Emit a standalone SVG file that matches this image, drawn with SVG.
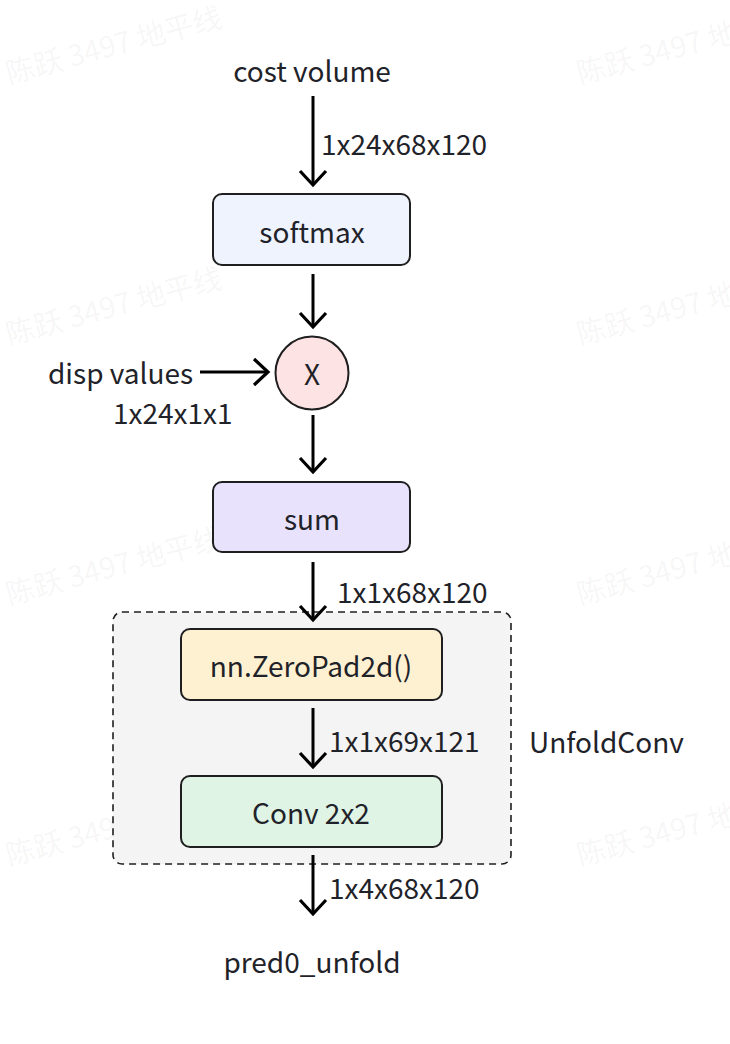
<svg xmlns="http://www.w3.org/2000/svg" width="730" height="1044" viewBox="0 0 730 1044">
<defs>
<style>
.t{font-family:"Noto Sans CJK SC","Noto Sans",sans-serif;font-size:28px;fill:#1f2329;}
.c{text-anchor:middle;dominant-baseline:central;}
.l{dominant-baseline:central;}
.box{stroke:#1f1f1f;stroke-width:2;}
.edge{stroke:#000;stroke-width:3;fill:none;}
.wm{font-family:"Noto Sans CJK SC",sans-serif;font-size:29px;fill:#000;fill-opacity:0.05;}
</style>
<marker id="ah" viewBox="0 0 20 30" refX="17" refY="15" markerWidth="20" markerHeight="30" markerUnits="userSpaceOnUse" orient="auto">
<path d="M3,2 L17,15 L3,28" fill="none" stroke="#000" stroke-width="3.2"/>
</marker>
</defs>
<rect width="730" height="1044" fill="#fff"/>
<g id="watermarks">
<text class="wm" transform="translate(9,84) rotate(-15)">陈跃 3497 地平线</text>
<text class="wm" transform="translate(9,345) rotate(-15)">陈跃 3497 地平线</text>
<text class="wm" transform="translate(9,605) rotate(-15)">陈跃 3497 地平线</text>
<text class="wm" transform="translate(9,866) rotate(-15)">陈跃 3497 地平线</text>
<text class="wm" transform="translate(580,84) rotate(-15)">陈跃 3497 地平线</text>
<text class="wm" transform="translate(580,345) rotate(-15)">陈跃 3497 地平线</text>
<text class="wm" transform="translate(580,605) rotate(-15)">陈跃 3497 地平线</text>
<text class="wm" transform="translate(580,866) rotate(-15)">陈跃 3497 地平线</text>
</g>
<g id="unfoldconv">
<rect x="113" y="612" width="398" height="252" rx="9" fill="#f4f4f4" stroke="#1f1f1f" stroke-width="1.6" stroke-dasharray="7,5"/>
<text class="t l" x="529" y="741">UnfoldConv</text>
</g>
<g id="connectors">
<line class="edge" x1="313" y1="96" x2="313" y2="185" marker-end="url(#ah)"/>
<line class="edge" x1="313" y1="274" x2="313" y2="327" marker-end="url(#ah)"/>
<line class="edge" x1="200" y1="372" x2="268" y2="372" marker-end="url(#ah)"/>
<line class="edge" x1="313" y1="415" x2="313" y2="472" marker-end="url(#ah)"/>
<line class="edge" x1="313" y1="562" x2="313" y2="620" marker-end="url(#ah)"/>
<line class="edge" x1="313" y1="708" x2="313" y2="767" marker-end="url(#ah)"/>
<line class="edge" x1="313" y1="855" x2="313" y2="914" marker-end="url(#ah)"/>
<text class="t l" x="321" y="143">1x24x68x120</text>
<text class="t l" x="337" y="591">1x1x68x120</text>
<text class="t l" x="329" y="740">1x1x69x121</text>
<text class="t l" x="329" y="887">1x4x68x120</text>
</g>
<g id="cost_volume"><text class="t c" x="312" y="70">cost volume</text></g>
<g id="softmax">
<rect class="box" x="213" y="194" width="197" height="71" rx="9" fill="#eef3fd"/>
<text class="t c" x="312" y="231">softmax</text>
</g>
<g id="disp_values">
<text class="t l" x="48" y="372">disp values</text>
<text class="t l" x="113" y="412">1x24x1x1</text>
</g>
<g id="mul">
<circle class="box" cx="312" cy="373" r="36.5" fill="#fde3e3"/>
<text class="t c" x="312" y="373">X</text>
</g>
<g id="sum">
<rect class="box" x="213" y="482" width="197" height="70" rx="9" fill="#e9e2fc"/>
<text class="t c" x="312" y="518">sum</text>
</g>
<g id="zeropad">
<rect class="box" x="181" y="629" width="261" height="71" rx="9" fill="#fdf1d2"/>
<text class="t c" x="311" y="665">nn.ZeroPad2d()</text>
</g>
<g id="conv">
<rect class="box" x="181" y="776" width="261" height="71" rx="9" fill="#dff4e5"/>
<text class="t c" x="311" y="812">Conv 2x2</text>
</g>
<g id="pred0_unfold"><text class="t c" x="312" y="961">pred0_unfold</text></g>
</svg>
